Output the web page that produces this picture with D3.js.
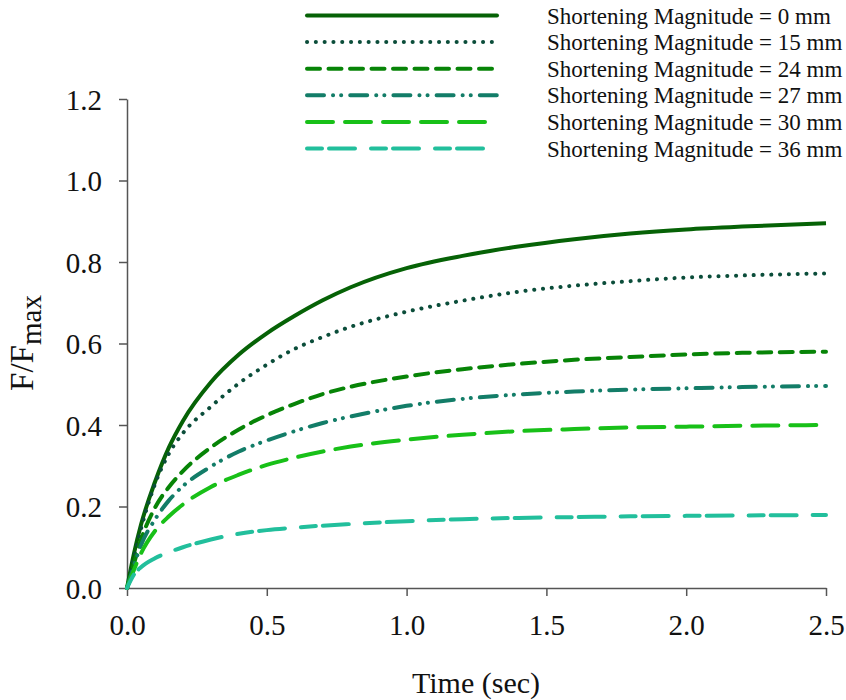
<!DOCTYPE html>
<html>
<head>
<meta charset="utf-8">
<script src="https://cdn.jsdelivr.net/npm/d3@7"></script>
<style>
  body { margin: 0; background: #fff; }
  svg { display: block; font-family: "Liberation Serif", "Times New Roman", serif; }
</style>
</head>
<body>
<div id="chart"></div>
<script>
const w = 846;
const h = 700;

// time points (sec)
const times = [0, 0.025, 0.05, 0.1, 0.15, 0.2, 0.3, 0.4, 0.5, 0.6, 0.7, 0.8, 1.0, 1.2, 1.4, 1.6, 1.8, 2.0, 2.2, 2.5];

// F/Fmax per shortening magnitude
const mm0  = [0, 0.085, 0.155, 0.26, 0.345, 0.41, 0.505, 0.573, 0.625, 0.668, 0.706, 0.738, 0.785, 0.815, 0.838, 0.856, 0.870, 0.880, 0.887, 0.895];
const mm15 = [0, 0.075, 0.145, 0.255, 0.33, 0.38, 0.445, 0.502, 0.548, 0.587, 0.616, 0.641, 0.678, 0.705, 0.727, 0.742, 0.753, 0.762, 0.767, 0.772];
const mm24 = [0, 0.06, 0.118, 0.197, 0.248, 0.287, 0.345, 0.389, 0.424, 0.452, 0.476, 0.494, 0.519, 0.537, 0.55, 0.56, 0.567, 0.573, 0.577, 0.58];
const mm27 = [0, 0.055, 0.105, 0.168, 0.215, 0.25, 0.298, 0.335, 0.362, 0.385, 0.405, 0.421, 0.447, 0.464, 0.475, 0.482, 0.487, 0.49, 0.493, 0.496];
const mm30 = [0, 0.045, 0.085, 0.14, 0.176, 0.205, 0.248, 0.278, 0.302, 0.32, 0.335, 0.347, 0.364, 0.376, 0.385, 0.39, 0.394, 0.396, 0.398, 0.40];
const mm36 = [0, 0.033, 0.051, 0.073, 0.088, 0.10, 0.119, 0.133, 0.142, 0.148, 0.153, 0.157, 0.164, 0.169, 0.172, 0.174, 0.176, 0.177, 0.178, 0.179];

const labels = [
  "Shortening Magnitude = 0 mm",
  "Shortening Magnitude = 15 mm",
  "Shortening Magnitude = 24 mm",
  "Shortening Magnitude = 27 mm",
  "Shortening Magnitude = 30 mm",
  "Shortening Magnitude = 36 mm",
];
const xTicks = [0, 0.5, 1.0, 1.5, 2.0, 2.5];
const yTicks = [0, 0.2, 0.4, 0.6, 0.8, 1.0, 1.2];

const styles = [
  { color: "#066206", dash: null, width: 4 },
  { color: "#0b4d3a", dash: "0.1 8.7", width: 4 },
  { color: "#078407", dash: "13 8.5", width: 4 },
  { color: "#137d68", dash: "17 9 0.1 8 0.1 9", width: 4 },
  { color: "#18c018", dash: "26 12", width: 4 },
  { color: "#22bf9c", dash: "15 7 26 16", width: 4 },
];

const series = [mm0, mm15, mm24, mm27, mm30, mm36].map((vals, i) => ({
  label: labels[i],
  style: styles[i],
  points: times.map((t, j) => [t, vals[j]]),
}));

const svg = d3.select("#chart").append("svg").attr("width", w).attr("height", h);

const x = d3.scaleLinear().domain([0, 2.5]).range([127, 826]);
const y = d3.scaleLinear().domain([0, 1.2]).range([588, 99]);

const xAxis = d3.axisBottom(x).tickValues(xTicks).tickFormat(d3.format(".1f")).tickSize(8).tickSizeOuter(0);
const yAxis = d3.axisLeft(y).tickValues(yTicks).tickFormat(d3.format(".1f")).tickSize(8).tickSizeOuter(0);

const gx = svg.append("g").attr("transform", "translate(0,588)").call(xAxis);
const gy = svg.append("g").attr("transform", "translate(127,0)").call(yAxis);

[gx, gy].forEach((g) => {
  g.select(".domain").attr("stroke", "#555").attr("stroke-width", 1.5);
  g.selectAll(".tick line").attr("stroke", "#555").attr("stroke-width", 1.5);
  g.selectAll(".tick text")
    .attr("fill", "#111")
    .style("font-family", "Liberation Serif, serif")
    .style("font-size", "29px");
});
gx.selectAll(".tick text").attr("dy", "1.25em");
gy.selectAll(".tick text").attr("x", -25).attr("dy", "0.35em");

// axis titles
svg.append("text")
  .attr("x", 476)
  .attr("y", 693)
  .attr("text-anchor", "middle")
  .style("font-size", "30px")
  .attr("fill", "#111")
  .text("Time (sec)");

const yl = svg.append("text")
  .attr("transform", "translate(33,343) rotate(-90)")
  .attr("text-anchor", "middle")
  .style("font-size", "33px")
  .attr("fill", "#111");
yl.append("tspan").text("F/F");
yl.append("tspan").attr("dy", 8).style("font-size", "29px").text("max");

// curves
const line = d3.line()
  .x((d) => x(d[0]))
  .y((d) => y(d[1]))
  .curve(d3.curveMonotoneX);

svg.selectAll("path.curve")
  .data(series)
  .enter()
  .append("path")
  .attr("class", "curve")
  .attr("d", (d) => line(d.points))
  .attr("fill", "none")
  .attr("stroke", (d) => d.style.color)
  .attr("stroke-width", (d) => d.style.width)
  .attr("stroke-dasharray", (d) => d.style.dash)
  .attr("stroke-linecap", (d, i) => (i === 0 ? "butt" : "round"));

// legend
const legend = svg.append("g");
const rowY = (i) => 15.5 + i * 26.6;

legend.selectAll("line")
  .data(series)
  .enter()
  .append("line")
  .attr("x1", 307)
  .attr("x2", 497)
  .attr("y1", (d, i) => rowY(i))
  .attr("y2", (d, i) => rowY(i))
  .attr("stroke", (d) => d.style.color)
  .attr("stroke-width", (d) => d.style.width)
  .attr("stroke-dasharray", (d) => d.style.dash)
  .attr("stroke-linecap", "round");

legend.selectAll("text")
  .data(series)
  .enter()
  .append("text")
  .attr("x", 547)
  .attr("y", (d, i) => rowY(i))
  .attr("dy", "0.35em")
  .style("font-size", "23px")
  .attr("fill", "#111")
  .text((d) => d.label);
</script>
</body>
</html>
